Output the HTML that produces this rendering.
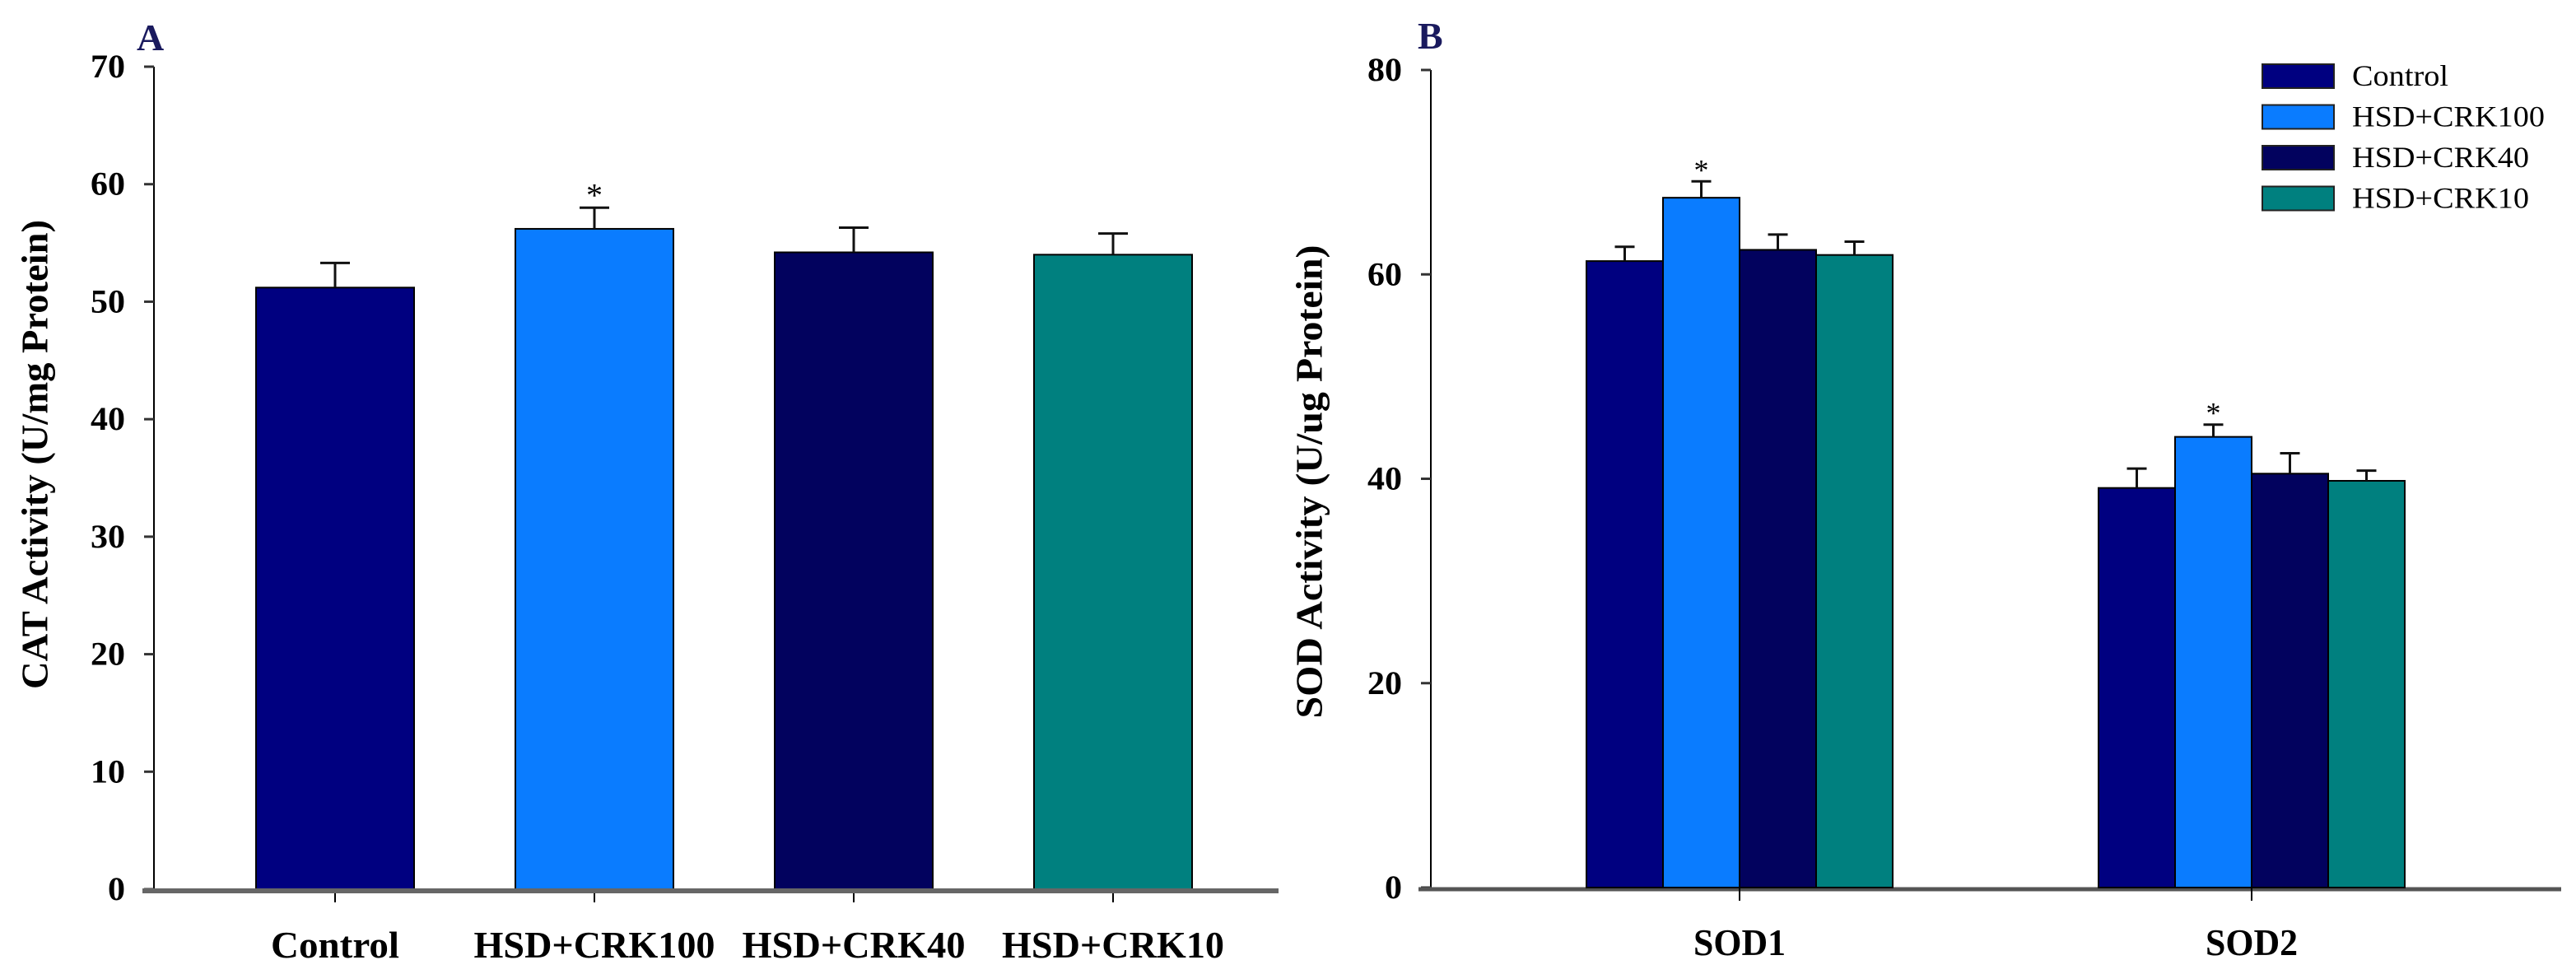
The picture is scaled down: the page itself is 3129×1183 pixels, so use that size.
<!DOCTYPE html>
<html><head><meta charset="utf-8"><style>
html,body{margin:0;padding:0;background:#fff;}
svg{display:block;}
text{font-family:"Liberation Serif",serif;}
</style></head><body>
<svg id="chart" width="3129" height="1183" viewBox="0 0 3129 1183" xmlns="http://www.w3.org/2000/svg">
<g id="panelA"></g>
<g id="panelB"></g>
</svg>
<script>
// Panel A data
const catA = ["Control","HSD+CRK100","HSD+CRK40","HSD+CRK10"];
const valA = [51.2, 56.2, 54.2, 54.0];
const errA = [2.1, 1.8, 2.1, 1.8];
const sigA = [false, true, false, false];
const ticksA = [0,10,20,30,40,50,60,70];
// Panel B data
const catB = ["SOD1","SOD2"];
const seriesB = ["Control","HSD+CRK100","HSD+CRK40","HSD+CRK10"];
const valB_control = [61.3, 39.1];
const valB_crk100 = [67.5, 44.1];
const valB_crk40 = [62.4, 40.5];
const valB_crk10 = [61.9, 39.8];
const errB_control = [1.4, 1.9];
const errB_crk100 = [1.6, 1.2];
const errB_crk40 = [1.5, 2.0];
const errB_crk10 = [1.3, 1.0];
const sigB = [[false,true,false,false],[false,true,false,false]];
const ticksB = [0,20,40,60,80];

const colors = ["#000080","#0a7cff","#02025e","#00807f"];
const labelWA = [156,293,271,270];
const NS = "http://www.w3.org/2000/svg";
function mk(parent, tag, attrs, txt){
  const e = document.createElementNS(NS, tag);
  for (const k in attrs) e.setAttribute(k, attrs[k]);
  if (txt !== undefined) e.textContent = txt;
  parent.appendChild(e);
  return e;
}

// ---------- Panel A ----------
const gA = document.getElementById('panelA');
const yA = v => 1080 - v * (1080 - 81) / 70;
const xA = i => 407 + i * 315;
const bwA = 192;
let t;
t = mk(gA,'text',{x:166,y:61,'font-size':46,'font-weight':'bold',fill:'#1a1a5e'},'A');


t = mk(gA,'line',{x1:187,y1:yA(70),x2:187,y2:yA(0),stroke:'#000','stroke-width':2});


ticksA.forEach(v=>{
  const l = mk(gA,'line',{x1:175,y1:yA(v),x2:187,y2:yA(v),stroke:'#333','stroke-width':3});
  
  
  const tx = mk(gA,'text',{x:152,y:yA(v)+13,'font-size':40,'font-weight':'bold','text-anchor':'end',textLength:String(v).length*21,lengthAdjust:'spacingAndGlyphs'},String(v));
  
  
});
t = mk(gA,'text',{x:0,y:0,'font-size':46,'font-weight':'bold','text-anchor':'middle','dominant-baseline':'central',transform:'translate(42,552) rotate(-90)',textLength:570,lengthAdjust:'spacingAndGlyphs'},'CAT Activity (U/mg Protein)');


catA.forEach((c,i)=>{
  const x = xA(i), top = yA(valA[i]);
  const r = mk(gA,'rect',{x:x-bwA/2,y:top,width:bwA,height:yA(0)-top,fill:colors[i],stroke:'#000','stroke-width':2});
  
  
  const et = yA(valA[i]+errA[i]);
  const e1 = mk(gA,'path',{d:`M${x},${top} V${et} M${x-18},${et} H${x+18}`,stroke:'#111','stroke-width':3,fill:'none'});
  
  
  if (sigA[i]) {
    const s = mk(gA,'text',{x:x,y:et-2,'font-size':40,'text-anchor':'middle'},'*');
    
    
  }
  const tk = mk(gA,'line',{x1:x,y1:yA(0),x2:x,y2:yA(0)+16,stroke:'#000','stroke-width':2});
  
  
  const lb = mk(gA,'text',{x:x,y:1163,'font-size':46,'font-weight':'bold','text-anchor':'middle',textLength:labelWA[i],lengthAdjust:'spacingAndGlyphs'},c);
  
  
});
t = mk(gA,'line',{x1:173,y1:yA(0)+2,x2:1553,y2:yA(0)+2,stroke:'#666','stroke-width':6});



// ---------- Panel B ----------
const gB = document.getElementById('panelB');
const yB = v => 1078 - v * (1078 - 85) / 80;
const groupCenters = i => 2113 + i * 622;
const bwB = 93;
const valsB = [valB_control, valB_crk100, valB_crk40, valB_crk10];
const errsB = [errB_control, errB_crk100, errB_crk40, errB_crk10];
t = mk(gB,'text',{x:1722,y:59,'font-size':46,'font-weight':'bold',fill:'#1a1a5e'},'B');


t = mk(gB,'line',{x1:1738,y1:yB(80),x2:1738,y2:yB(0),stroke:'#000','stroke-width':2});


ticksB.forEach(v=>{
  const l = mk(gB,'line',{x1:1726,y1:yB(v),x2:1738,y2:yB(v),stroke:'#333','stroke-width':3});
  
  
  const tx = mk(gB,'text',{x:1703,y:yB(v)+13,'font-size':40,'font-weight':'bold','text-anchor':'end',textLength:String(v).length*21,lengthAdjust:'spacingAndGlyphs'},String(v));
  
  
});
t = mk(gB,'text',{x:0,y:0,'font-size':46,'font-weight':'bold','text-anchor':'middle','dominant-baseline':'central',transform:'translate(1590,585) rotate(-90)',textLength:575,lengthAdjust:'spacingAndGlyphs'},'SOD Activity (U/ug Protein)');


t = mk(gB,'line',{x1:1723,y1:yB(0)+2,x2:3111,y2:yB(0)+2,stroke:'#555','stroke-width':5});


catB.forEach((c,gi)=>{
  const cx = groupCenters(gi);
  seriesB.forEach((s,si)=>{
    const x = cx + (si - 2) * bwB;
    const v = valsB[si][gi], top = yB(v);
    const r = mk(gB,'rect',{x:x,y:top,width:bwB,height:yB(0)-top,fill:colors[si],stroke:'#000','stroke-width':2});
    
    
    const mx = x + bwB/2, et = yB(v + errsB[si][gi]);
    const e1 = mk(gB,'path',{d:`M${mx},${top} V${et} M${mx-12},${et} H${mx+12}`,stroke:'#111','stroke-width':3,fill:'none'});
    
    
    if (sigB[gi][si]) {
      const st = mk(gB,'text',{x:mx,y:et-2,'font-size':36,'text-anchor':'middle'},'*');
      
      
    }
  });
  const tk = mk(gB,'line',{x1:cx,y1:yB(0),x2:cx,y2:yB(0)+16,stroke:'#000','stroke-width':2});
  
  
  const lb = mk(gB,'text',{x:cx,y:1160,'font-size':46,'font-weight':'bold','text-anchor':'middle',textLength:112,lengthAdjust:'spacingAndGlyphs'},c);
  
  
});
// legend
const legendW = [117,234,215,215];
seriesB.forEach((s,si)=>{
  const y = 78 + si * 49.5;
  const r = mk(gB,'rect',{x:2748,y:y,width:87,height:29,fill:colors[si],stroke:'#222','stroke-width':2});
  
  
  const tx = mk(gB,'text',{x:2857,y:y+26,'font-size':36,textLength:legendW[si],lengthAdjust:'spacingAndGlyphs'},s);
  
  
});
</script>
</body></html>
